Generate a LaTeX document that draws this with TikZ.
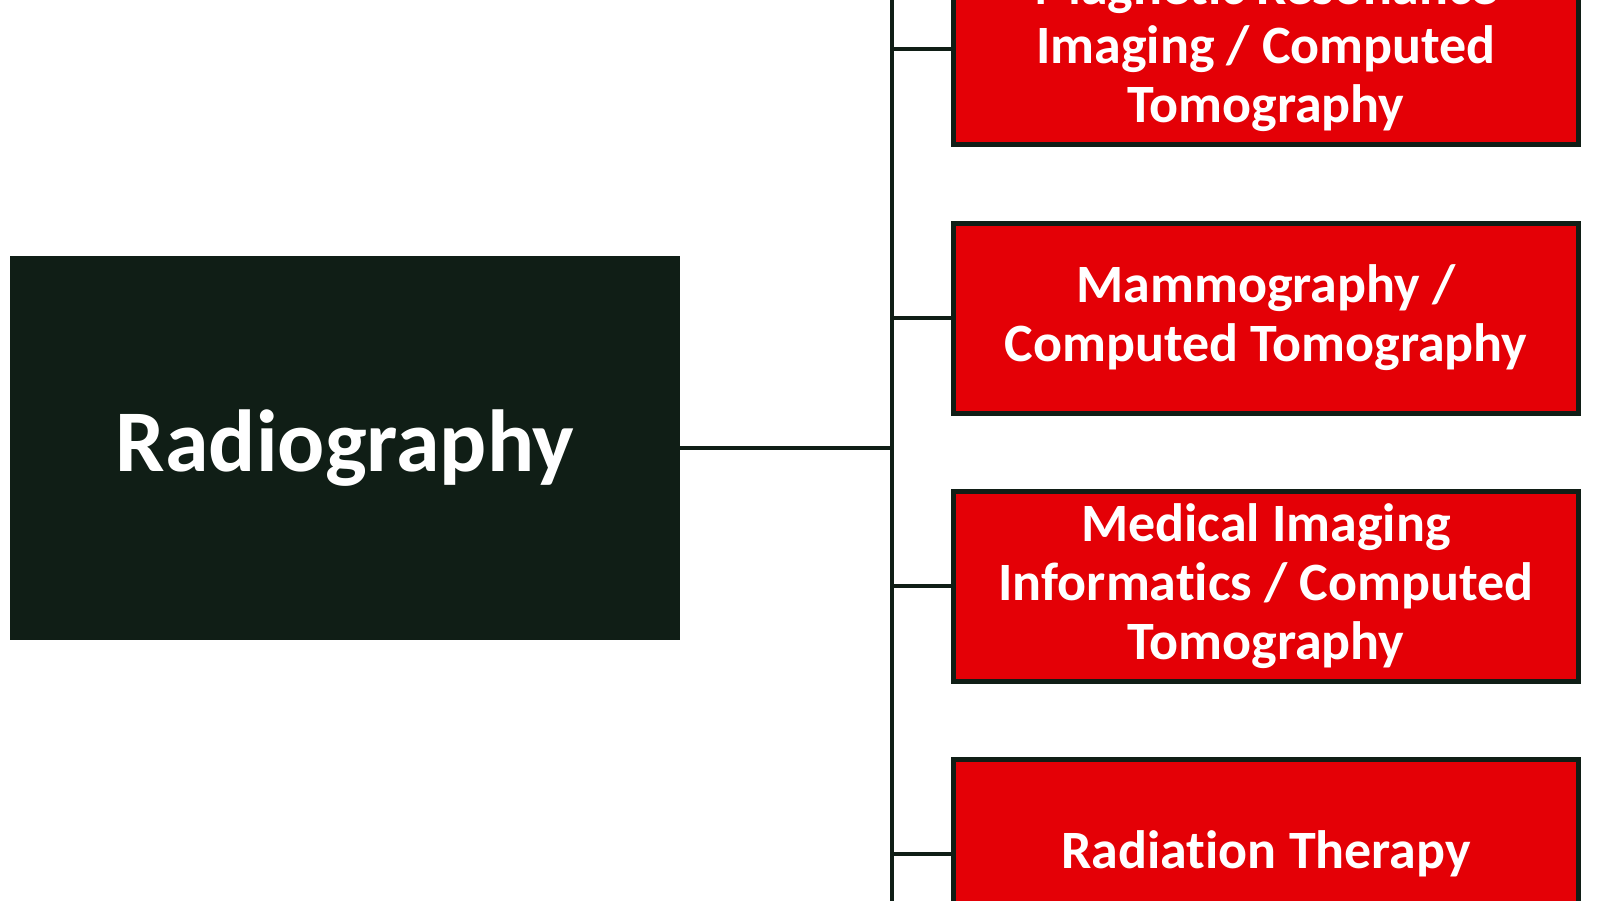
\documentclass[tikz,border=0pt]{standalone}
\usepackage{fontspec}
\setmainfont{Carlito}[Ligatures=NoCommon]
\definecolor{boxred}{RGB}{228,0,6}
\definecolor{darkgreen}{RGB}{16,30,22}
\tikzset{
	mainbox/.style={fill=darkgreen, draw=darkgreen, line width=2pt, minimum width=668pt, minimum height=382pt, text=white, font=\bfseries\fontsize{88}{96}\selectfont},
	subbox/.style={fill=boxred, draw=darkgreen, line width=5pt, minimum width=625pt, minimum height=190pt, text=white, align=center, font=\bfseries\fontsize{54}{59}\selectfont},
	link/.style={draw=darkgreen, line width=4.5pt}
}
\begin{document}
\begin{tikzpicture}[x=1pt, y=-1pt]
		\useasboundingbox (0,0) rectangle (1600,900);
		\clip (0,0) rectangle (1600,900);

		\node[mainbox] (rad) at (345, 448) {Radiography};
		\node[subbox] (mri) at (1266, 49) {Magnetic Resonance\\Imaging / Computed\\Tomography};
		\node[subbox] (mam) at (1266, 318) {Mammography /\\Computed Tomography};
		\node[subbox] (mii) at (1266, 586) {Medical Imaging\\Informatics / Computed\\Tomography};
		\node[subbox] (rt) at (1266, 854) {Radiation Therapy};

		\coordinate (top) at (892, -10);
		\coordinate (bot) at (892, 910);

		\path (top) edge[link] (bot)
		(rad.east) edge[link] (rad.east -| top)
		(mri.west -| top) edge[link] (mri.west)
		(mam.west -| top) edge[link] (mam.west)
		(mii.west -| top) edge[link] (mii.west)
		(rt.west -| top) edge[link] (rt.west);
	\end{tikzpicture}
\end{document}
